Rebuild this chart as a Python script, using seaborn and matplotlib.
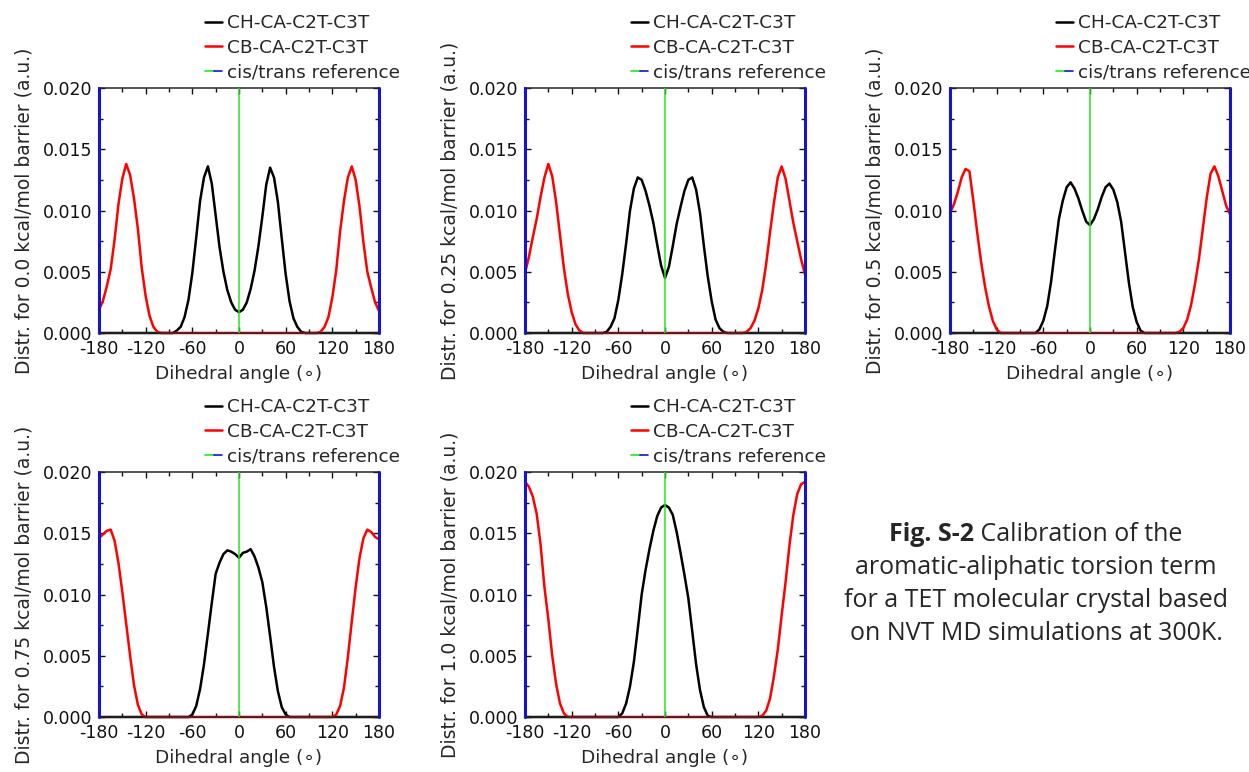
#!/usr/bin/env python3
"""
Dihedral distributions of the aromatic-aliphatic torsion (TET crystal, NVT 300K)
for five barrier heights, redrawn as a 2x3 panel figure.
"""

import numpy as np
import matplotlib
matplotlib.use('Agg')
import matplotlib.pyplot as plt
import seaborn as sns
from matplotlib.lines import Line2D
from matplotlib.legend_handler import HandlerTuple
from matplotlib.ticker import MultipleLocator, FormatStrFormatter

# dihedral angle grid, degrees (-180 ... 180 every 5)
angle = np.arange(-180, 181, 5)

barriers = ['0.0', '0.25', '0.5', '0.75', '1.0']

# rows: -180..-125 | -120..-65 | -60..-5 | 0..55 | 60..115 | 120..175 | 180
ch_00 = [0, 0, 0, 0, 0, 0, 0, 0, 0, 0, 0, 0,
         0, 0, 0, 0, 0, 0, 0, 0, 0.0002, 0.0005, 0.0013, 0.0027,
         0.0049, 0.0078, 0.0108, 0.0127, 0.0136, 0.0122, 0.0096, 0.0070, 0.0050, 0.0035, 0.0025, 0.0019,
         0.0017, 0.0019, 0.0025, 0.0036, 0.0051, 0.0071, 0.0095, 0.0121, 0.0135, 0.0127, 0.0107, 0.0077,
         0.0048, 0.0026, 0.0012, 0.0005, 0.0001, 0, 0, 0, 0, 0, 0, 0,
         0, 0, 0, 0, 0, 0, 0, 0, 0, 0, 0, 0,
         0]
cb_00 = [0.0019, 0.0026, 0.0038, 0.0052, 0.0076, 0.0105, 0.0126, 0.0138, 0.0129, 0.0110, 0.0085, 0.0053,
         0.0030, 0.0014, 0.0005, 0.0001, 0, 0, 0, 0, 0, 0, 0, 0,
         0, 0, 0, 0, 0, 0, 0, 0, 0, 0, 0, 0,
         0, 0, 0, 0, 0, 0, 0, 0, 0, 0, 0, 0,
         0, 0, 0, 0, 0, 0, 0, 0, 0, 0.0001, 0.0005, 0.0013,
         0.0029, 0.0051, 0.0083, 0.0108, 0.0127, 0.0136, 0.0125, 0.0103, 0.0074, 0.0050, 0.0037, 0.0025,
         0.0018]

ch_25 = [0, 0, 0, 0, 0, 0, 0, 0, 0, 0, 0, 0,
         0, 0, 0, 0, 0, 0, 0, 0, 0, 0.0001, 0.0005, 0.0012,
         0.0027, 0.0048, 0.0073, 0.0100, 0.0118, 0.0127, 0.0125, 0.0116, 0.0104, 0.0090, 0.0072, 0.0055,
         0.0045, 0.0054, 0.0071, 0.0089, 0.0103, 0.0116, 0.0125, 0.0127, 0.0117, 0.0098, 0.0071, 0.0046,
         0.0026, 0.0011, 0.0004, 0.0001, 0, 0, 0, 0, 0, 0, 0, 0,
         0, 0, 0, 0, 0, 0, 0, 0, 0, 0, 0, 0,
         0]
cb_25 = [0.0049, 0.0062, 0.0078, 0.0093, 0.0111, 0.0127, 0.0138, 0.0128, 0.0107, 0.0080, 0.0053, 0.0032,
         0.0017, 0.0007, 0.0002, 0, 0, 0, 0, 0, 0, 0, 0, 0,
         0, 0, 0, 0, 0, 0, 0, 0, 0, 0, 0, 0,
         0, 0, 0, 0, 0, 0, 0, 0, 0, 0, 0, 0,
         0, 0, 0, 0, 0, 0, 0, 0, 0, 0.0001, 0.0004, 0.0010,
         0.0020, 0.0035, 0.0056, 0.0082, 0.0106, 0.0127, 0.0136, 0.0126, 0.0108, 0.0090, 0.0075, 0.0060,
         0.0048]

ch_50 = [0, 0, 0, 0, 0, 0, 0, 0, 0, 0, 0, 0,
         0, 0, 0, 0, 0, 0, 0, 0, 0, 0, 0, 0.0003,
         0.0010, 0.0022, 0.0042, 0.0068, 0.0093, 0.0108, 0.0119, 0.0123, 0.0118, 0.0110, 0.0100, 0.0091,
         0.0088, 0.0093, 0.0101, 0.0111, 0.0119, 0.0122, 0.0117, 0.0107, 0.0091, 0.0066, 0.0041, 0.0021,
         0.0009, 0.0002, 0, 0, 0, 0, 0, 0, 0, 0, 0, 0,
         0, 0, 0, 0, 0, 0, 0, 0, 0, 0, 0, 0,
         0]
cb_50 = [0.0098, 0.0105, 0.0115, 0.0127, 0.0134, 0.0132, 0.0108, 0.0082, 0.0058, 0.0038, 0.0022, 0.0010,
         0.0003, 0, 0, 0, 0, 0, 0, 0, 0, 0, 0, 0,
         0, 0, 0, 0, 0, 0, 0, 0, 0, 0, 0, 0,
         0, 0, 0, 0, 0, 0, 0, 0, 0, 0, 0, 0,
         0, 0, 0, 0, 0, 0, 0, 0, 0, 0, 0, 0.0001,
         0.0004, 0.0011, 0.0023, 0.0040, 0.0060, 0.0085, 0.0110, 0.0130, 0.0136, 0.0128, 0.0116, 0.0104,
         0.0097]

ch_75 = [0, 0, 0, 0, 0, 0, 0, 0, 0, 0, 0, 0,
         0, 0, 0, 0, 0, 0, 0, 0, 0, 0, 0, 0,
         0.0002, 0.0009, 0.0023, 0.0043, 0.0068, 0.0093, 0.0117, 0.0126, 0.0133, 0.0136, 0.0135, 0.0133,
         0.0130, 0.0134, 0.0135, 0.0137, 0.0131, 0.0122, 0.0110, 0.0090, 0.0066, 0.0041, 0.0021, 0.0008,
         0.0002, 0, 0, 0, 0, 0, 0, 0, 0, 0, 0, 0,
         0, 0, 0, 0, 0, 0, 0, 0, 0, 0, 0, 0,
         0]
cb_75 = [0.0146, 0.0149, 0.0152, 0.0153, 0.0144, 0.0126, 0.0102, 0.0076, 0.0050, 0.0026, 0.0010, 0.0002,
         0, 0, 0, 0, 0, 0, 0, 0, 0, 0, 0, 0,
         0, 0, 0, 0, 0, 0, 0, 0, 0, 0, 0, 0,
         0, 0, 0, 0, 0, 0, 0, 0, 0, 0, 0, 0,
         0, 0, 0, 0, 0, 0, 0, 0, 0, 0, 0, 0,
         0, 0.0002, 0.0009, 0.0024, 0.0049, 0.0078, 0.0106, 0.0130, 0.0146, 0.0153, 0.0151, 0.0147,
         0.0145]

ch_100 = [0, 0, 0, 0, 0, 0, 0, 0, 0, 0, 0, 0,
          0, 0, 0, 0, 0, 0, 0, 0, 0, 0, 0, 0,
          0, 0.0003, 0.0011, 0.0025, 0.0045, 0.0072, 0.0100, 0.0120, 0.0137, 0.0152, 0.0164, 0.0171,
          0.0173, 0.0171, 0.0165, 0.0151, 0.0134, 0.0116, 0.0097, 0.0070, 0.0043, 0.0022, 0.0008, 0.0001,
          0, 0, 0, 0, 0, 0, 0, 0, 0, 0, 0, 0,
          0, 0, 0, 0, 0, 0, 0, 0, 0, 0, 0, 0,
          0]
cb_100 = [0.0192, 0.0188, 0.0180, 0.0166, 0.0141, 0.0106, 0.0080, 0.0050, 0.0027, 0.0011, 0.0003, 0,
          0, 0, 0, 0, 0, 0, 0, 0, 0, 0, 0, 0,
          0, 0, 0, 0, 0, 0, 0, 0, 0, 0, 0, 0,
          0, 0, 0, 0, 0, 0, 0, 0, 0, 0, 0, 0,
          0, 0, 0, 0, 0, 0, 0, 0, 0, 0, 0, 0,
          0, 0.0001, 0.0005, 0.0015, 0.0033, 0.0055, 0.0083, 0.0110, 0.0140, 0.0165, 0.0182, 0.0190,
          0.0192]

ch_series = [ch_00, ch_25, ch_50, ch_75, ch_100]
cb_series = [cb_00, cb_25, cb_50, cb_75, cb_100]

caption_bold = 'Fig. S-2'
caption_rest = ['Calibration of the',
                'aromatic-aliphatic torsion term',
                'for a TET molecular crystal based',
                'on NVT MD simulations at 300K.']

GREEN = '#22e622'
BLUE = '#1414d2'

sns.set_style('ticks')
plt.rcParams['font.family'] = ['DejaVu Sans']
plt.rcParams['axes.linewidth'] = 1.1
plt.rcParams['axes.unicode_minus'] = False

W, H = 1249, 772
fig = plt.figure(figsize=(W / 100, H / 100), dpi=100)

# axes boxes in pixels: left, top
boxes = [(99, 88), (525, 88), (950, 88), (99, 472), (525, 472)]
ax_w, ax_h = 280, 245


def draw_panel(ax, barrier, ch, cb):
    assert len(ch) == len(angle) and len(cb) == len(angle)
    sns.lineplot(x=angle, y=ch, ax=ax, color='black', lw=1.8)
    sns.lineplot(x=angle, y=cb, ax=ax, color='red', lw=1.8)
    for line in ax.lines:
        line.set_clip_on(False)
    ax.axvline(0, color=GREEN, lw=1.1, zorder=3)
    for edge in (-180, 180):
        ax.axvline(edge, color=BLUE, lw=2.2, clip_on=False, zorder=4)

    ax.set_xlim(-180, 180)
    ax.set_ylim(0, 0.020)
    ax.xaxis.set_major_locator(MultipleLocator(60))
    ax.xaxis.set_minor_locator(MultipleLocator(30))
    ax.yaxis.set_major_locator(MultipleLocator(0.005))
    ax.yaxis.set_minor_locator(MultipleLocator(0.0025))
    ax.yaxis.set_major_formatter(FormatStrFormatter('%.3f'))
    ax.tick_params(which='both', direction='in', top=True, right=True,
                   width=1.0, labelsize=12.5, colors='#111111', pad=5)
    ax.tick_params(which='major', length=4)
    ax.tick_params(which='minor', length=3)

    ax.set_xlabel('Dihedral angle (\u2218)', fontsize=13.3, labelpad=5)
    ax.set_ylabel(f'Distr. for {barrier} kcal/mol barrier (a.u.)', fontsize=13.5)
    ax.yaxis.set_label_coords(-0.235, 0.5)

    handles = [Line2D([], [], color='black', lw=1.8),
               Line2D([], [], color='red', lw=1.8),
               (Line2D([], [], color=GREEN, lw=1.2), Line2D([], [], color=BLUE, lw=1.2))]
    labels = ['CH-CA-C2T-C3T', 'CB-CA-C2T-C3T', 'cis/trans reference']
    ax.legend(handles, labels, handler_map={tuple: HandlerTuple(ndivide=None, pad=0)},
              loc='lower left', bbox_to_anchor=(0.38, 1.028), frameon=False,
              fontsize=13.3, handlelength=0.9, handletextpad=0.25,
              labelspacing=0.35, borderpad=0, borderaxespad=0)


for (left, top), barrier, ch, cb in zip(boxes, barriers, ch_series, cb_series):
    ax = fig.add_axes([left / W, 1 - (top + ax_h) / H, ax_w / W, ax_h / H])
    draw_panel(ax, barrier, ch, cb)

# caption, centred on x = 1036 px
cx = 1036
baselines = [541, 574, 607, 640]
cap_font = ['Open Sans', 'DejaVu Sans']
cap_size = 18
renderer = fig.canvas.get_renderer()
t_bold = fig.text(0, 1 - baselines[0] / H, caption_bold, fontsize=cap_size,
                  fontweight='bold', family=cap_font, va='baseline')
t_reg = fig.text(0, 1 - baselines[0] / H, ' ' + caption_rest[0], fontsize=cap_size,
                 family=cap_font, va='baseline')
wb = t_bold.get_window_extent(renderer).width
wr = t_reg.get_window_extent(renderer).width
x0 = cx - (wb + wr) / 2
t_bold.set_x(x0 / W)
t_reg.set_x((x0 + wb) / W)
for text, base in zip(caption_rest[1:], baselines[1:]):
    fig.text(cx / W, 1 - base / H, text, fontsize=cap_size, family=cap_font,
             ha='center', va='baseline')

fig.savefig('out.png', dpi=100)
print('Saved: out.png')
